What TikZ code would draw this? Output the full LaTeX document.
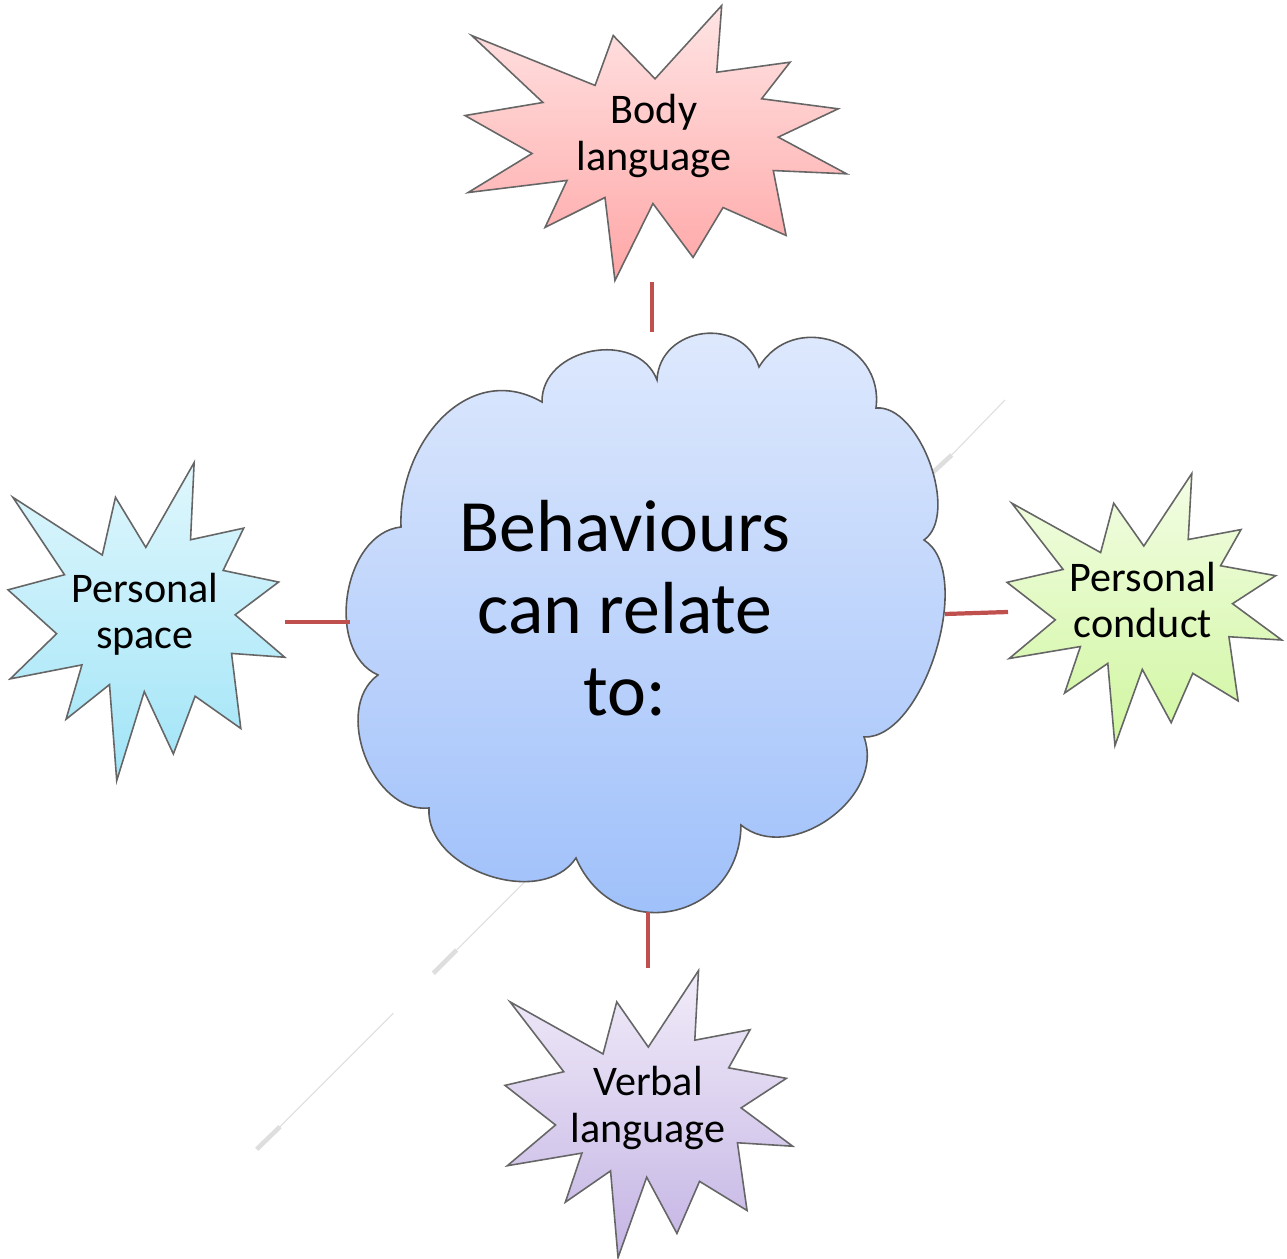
\documentclass[tikz,border=0pt]{standalone}
\usepackage{fontspec}
\setmainfont{Carlito}
\usepackage{tikz}
\definecolor{linkred}{RGB}{192,80,77}
\definecolor{bodytop}{RGB}{255,228,228}
\definecolor{bodybot}{RGB}{255,166,166}
\definecolor{spacetop}{RGB}{224,247,253}
\definecolor{spacebot}{RGB}{160,228,247}
\definecolor{conducttop}{RGB}{243,253,228}
\definecolor{conductbot}{RGB}{208,246,160}
\definecolor{verbaltop}{RGB}{241,236,249}
\definecolor{verbalbot}{RGB}{196,180,228}
\definecolor{cloudtop}{RGB}{224,234,253}
\definecolor{cloudbot}{RGB}{156,190,250}
\newcommand{\drawburst}[5]{%
  \begin{scope}[shift={#1},xscale=#2,yscale=#3]
    \draw[burstline,top color=#4,bottom color=#5]
      (-0.965,0.778)--(-0.319,0.415)--(-0.224,0.778)--(-0.005,0.463)--(0.344,0.996)--(0.318,0.511)
      --(0.702,0.584)--(0.553,0.318)--(0.954,0.245)--(0.640,0.039)--(0.998,-0.228)--(0.614,-0.204)
      --(0.681,-0.676)--(0.351,-0.473)--(0.194,-0.836)--(-0.016,-0.444)--(-0.215,-1.004)--(-0.267,-0.4)
      --(-0.581,-0.618)--(-0.466,-0.276)--(-0.984,-0.364)--(-0.649,-0.08)--(-1.0,0.196)--(-0.592,0.291)--cycle;
  \end{scope}}

\begin{document}
\begin{tikzpicture}[
    burstline/.style={draw=black!60,line width=0.45pt},
    link/.style={draw=linkred,line width=1.2pt},
    ghost/.style={draw=black!13,line width=0.3pt},
    ghostthick/.style={draw=black!13,line width=1.3pt},
    label/.style={align=center,font=\fontsize{12}{13.2}\selectfont},
    cloudlabel/.style={align=center,font=\fontsize{21}{23.3}\selectfont}]
    \useasboundingbox (0,0) rectangle (12.87,-12.59);
    % faint diagonal strokes
    \draw[ghostthick](9.283,-4.767)--(9.517,-4.55);
    \draw[ghost](9.517,-4.55)--(10.05,-4.0);
    \draw[ghost](5.267,-8.80)--(4.567,-9.50);
    \draw[ghostthick](4.567,-9.50)--(4.333,-9.733);
    \draw[ghost](3.933,-10.133)--(2.80,-11.267);
    \draw[ghostthick](2.80,-11.267)--(2.567,-11.493);
    % cloud
    \draw[draw=black!65,line width=0.45pt,top color=cloudtop,bottom color=cloudbot]
      (4.01,-5.27) to[out=92,in=150,looseness=1.15] (5.42,-4.02)
      to[bend left=80,looseness=1.2] (6.57,-3.80)
      to[bend left=80,looseness=1.35] (7.59,-3.67)
      to[bend left=78,looseness=1.38] (8.76,-4.08)
      to[bend left=75,looseness=0.8] (9.24,-5.40)
      to[bend left=75,looseness=0.75] (8.64,-7.37)
      to[bend left=75,looseness=1.08] (7.41,-8.25)
      to[bend left=78,looseness=1.47] (5.76,-8.58)
      to[bend left=75,looseness=1.02] (4.29,-8.08)
      to[bend left=75,looseness=1.02] (3.78,-6.75)
      to[bend left=75,looseness=1.0] (4.01,-5.27)--cycle;
    \node[cloudlabel] (cloud) at (6.25,-6.08) {Behaviours\\can relate\\to:};
    % starbursts
    \drawburst{(6.56,-1.425)}{1.91}{1.375}{bodytop}{bodybot}
    \drawburst{(1.465,-6.21)}{1.385}{1.59}{spacetop}{spacebot}
    \drawburst{(11.445,-6.09)}{1.375}{1.36}{conducttop}{conductbot}
    \drawburst{(6.49,-11.135)}{1.44}{1.435}{verbaltop}{verbalbot}
    \node[label] (body) at (6.54,-1.36) {Body\\language};
    \node[label] (space) at (1.45,-6.14) {Personal\\space};
    \node[label] (conduct) at (11.43,-6.00) {Personal\\conduct};
    \node[label] (verbal) at (6.48,-11.08) {Verbal\\language};
    % connectors
    \coordinate (bodyend) at (6.52,-2.82);
    \coordinate (cloudn) at (6.52,-3.32);
    \coordinate (spaceend) at (2.85,-6.22);
    \coordinate (cloudw) at (3.50,-6.22);
    \coordinate (cloude) at (9.45,-6.14);
    \coordinate (conductend) at (10.08,-6.12);
    \coordinate (clouds) at (6.48,-9.12);
    \coordinate (verbalend) at (6.48,-9.68);
    \draw[link](bodyend)--(cloudn);
    \draw[link](spaceend)--(cloudw);
    \draw[link](cloude)--(conductend);
    \draw[link](clouds)--(verbalend);
\end{tikzpicture}
\end{document}
